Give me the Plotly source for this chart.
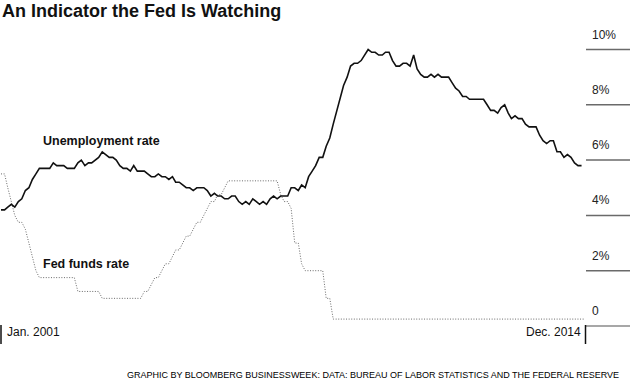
import pandas as pd
import plotly.graph_objects as go

# ---- data ----
unemployment = [
    4.2, 4.2, 4.3, 4.4, 4.3, 4.5, 4.6, 4.9, 5.0, 5.3, 5.5, 5.7,   # 2001
    5.7, 5.7, 5.7, 5.9, 5.8, 5.8, 5.8, 5.7, 5.7, 5.7, 5.9, 6.0,   # 2002
    5.8, 5.9, 5.9, 6.0, 6.1, 6.3, 6.2, 6.1, 6.1, 6.0, 5.8, 5.7,   # 2003
    5.7, 5.6, 5.8, 5.6, 5.6, 5.6, 5.5, 5.4, 5.4, 5.5, 5.4, 5.4,   # 2004
    5.3, 5.4, 5.2, 5.2, 5.1, 5.0, 5.0, 4.9, 5.0, 5.0, 5.0, 4.9,   # 2005
    4.7, 4.8, 4.7, 4.7, 4.6, 4.6, 4.7, 4.7, 4.5, 4.4, 4.5, 4.4,   # 2006
    4.6, 4.5, 4.4, 4.5, 4.4, 4.6, 4.7, 4.6, 4.7, 4.7, 4.7, 5.0,   # 2007
    5.0, 4.9, 5.1, 5.0, 5.4, 5.6, 5.8, 6.1, 6.1, 6.5, 6.8, 7.3,   # 2008
    7.8, 8.3, 8.7, 9.0, 9.4, 9.5, 9.5, 9.6, 9.8, 10.0, 9.9, 9.9,  # 2009
    9.8, 9.8, 9.9, 9.9, 9.6, 9.4, 9.4, 9.5, 9.5, 9.4, 9.8, 9.3,   # 2010
    9.1, 9.0, 9.0, 9.1, 9.0, 9.1, 9.0, 9.0, 9.0, 8.8, 8.6, 8.5,   # 2011
    8.3, 8.3, 8.2, 8.2, 8.2, 8.2, 8.2, 8.0, 7.8, 7.8, 7.7, 7.9,   # 2012
    8.0, 7.7, 7.5, 7.6, 7.5, 7.5, 7.3, 7.2, 7.2, 7.2, 6.9, 6.7,   # 2013
    6.6, 6.7, 6.7, 6.3, 6.3, 6.1, 6.2, 6.1, 5.9, 5.8, 5.8,        # 2014 (to Nov)
]

fed_funds = [
    5.5, 5.5, 5.0, 4.5, 4.0, 3.75, 3.75, 3.5, 3.0, 2.5, 2.0, 1.75,          # 2001
    1.75, 1.75, 1.75, 1.75, 1.75, 1.75, 1.75, 1.75, 1.75, 1.75, 1.25, 1.25,  # 2002
    1.25, 1.25, 1.25, 1.25, 1.25, 1.0, 1.0, 1.0, 1.0, 1.0, 1.0, 1.0,        # 2003
    1.0, 1.0, 1.0, 1.0, 1.0, 1.25, 1.25, 1.5, 1.75, 1.75, 2.0, 2.25,        # 2004
    2.25, 2.5, 2.75, 2.75, 3.0, 3.25, 3.25, 3.5, 3.75, 3.75, 4.0, 4.25,     # 2005
    4.5, 4.5, 4.75, 4.75, 5.0, 5.25, 5.25, 5.25, 5.25, 5.25, 5.25, 5.25,    # 2006
    5.25, 5.25, 5.25, 5.25, 5.25, 5.25, 5.25, 5.25, 4.75, 4.5, 4.5, 4.25,   # 2007
    3.0, 3.0, 2.25, 2.0, 2.0, 2.0, 2.0, 2.0, 2.0, 1.0, 1.0, 0.25,           # 2008
] + [0.25] * 72                                                              # 2009-2014

months_fed = pd.date_range("2001-01-01", "2014-12-01", freq="MS")
months_unemp = months_fed[:len(unemployment)]

y_ticks = [0, 2, 4, 6, 8, 10]
y_tick_labels = ["0", "2%", "4%", "6%", "8%", "10%"]

title = "An Indicator the Fed Is Watching"
source = "GRAPHIC BY BLOOMBERG BUSINESSWEEK: DATA: BUREAU OF LABOR STATISTICS AND THE FEDERAL RESERVE"

# ---- layout geometry ----
W, H = 630, 380
ML, MR, MT, MB = 1, 45, 20, 35
PW, PH = W - ML - MR, H - MT - MB
ZERO_PX, PX_PER_UNIT = 326, 27.65
y_top = (ZERO_PX - MT) / PX_PER_UNIT
y_bot = (ZERO_PX - (H - MB)) / PX_PER_UNIT


def px(x):
    return (x - ML) / PW


def py(y):
    return (H - MB - y) / PH


fig = go.Figure()
fig.add_trace(go.Scatter(
    x=months_fed, y=fed_funds, mode="lines",
    line=dict(color="#6a6a6a", width=1, dash="1px,1.6px"),
    hoverinfo="skip", showlegend=False,
))
fig.add_trace(go.Scatter(
    x=months_unemp, y=unemployment, mode="lines",
    line=dict(color="#111111", width=1.6),
    hoverinfo="skip", showlegend=False,
))

shapes = []
for v in y_ticks:
    shapes.append(dict(type="line", xref="paper", yref="y",
                       x0=px(586), x1=px(631), y0=v, y1=v,
                       line=dict(color="#8a8a8a" if v == 0 else "#6a6a6a", width=1.5)))
# bottom tick marks
for xp in (1, 585.5):
    shapes.append(dict(type="line", xref="paper", yref="paper",
                       x0=px(xp), x1=px(xp), y0=py(325), y1=py(344),
                       line=dict(color="#111111", width=1.5)))

annotations = []
for v, lab in zip(y_ticks, y_tick_labels):
    annotations.append(dict(xref="paper", yref="y", x=px(590), y=v, yshift=15,
                            text=lab, showarrow=False, xanchor="left", yanchor="middle",
                            font=dict(family="Liberation Sans", size=12, color="#222222")))

annotations += [
    dict(xref="paper", yref="paper", x=px(0), y=py(11), text="<b>" + title + "</b>",
         showarrow=False, xanchor="left", yanchor="middle",
         font=dict(family="Liberation Sans", size=18, color="#111111")),
    dict(xref="paper", yref="paper", x=px(41), y=py(141), text="<b>Unemployment rate</b>",
         showarrow=False, xanchor="left", yanchor="middle",
         font=dict(family="Liberation Sans", size=12.5, color="#111111")),
    dict(xref="paper", yref="paper", x=px(41), y=py(264), text="<b>Fed funds rate</b>",
         showarrow=False, xanchor="left", yanchor="middle",
         font=dict(family="Liberation Sans", size=12.5, color="#111111")),
    dict(xref="paper", yref="paper", x=px(5), y=py(332), text="Jan. 2001",
         showarrow=False, xanchor="left", yanchor="middle",
         font=dict(family="Liberation Sans", size=12, color="#111111")),
    dict(xref="paper", yref="paper", x=px(583), y=py(332), text="Dec. 2014",
         showarrow=False, xanchor="right", yanchor="middle",
         font=dict(family="Liberation Sans", size=12, color="#111111")),
    dict(xref="paper", yref="paper", x=px(621), y=py(375), text=source,
         showarrow=False, xanchor="right", yanchor="middle",
         font=dict(family="Liberation Sans", size=9, color="#000000")),
]

fig.update_layout(
    width=W, height=H,
    margin=dict(l=ML, r=MR, t=MT, b=MB, pad=0),
    paper_bgcolor="white", plot_bgcolor="white",
    xaxis=dict(range=[months_fed[0], months_fed[-1]], showgrid=False, zeroline=False,
               showticklabels=False, showline=False, fixedrange=True),
    yaxis=dict(range=[y_bot, y_top], showgrid=False, zeroline=False,
               showticklabels=False, showline=False, fixedrange=True),
    shapes=shapes, annotations=annotations,
)

fig.write_html("out.html", config={"displayModeBar": False},
               post_script="document.body.style.margin='0';document.body.style.overflow='hidden';")
